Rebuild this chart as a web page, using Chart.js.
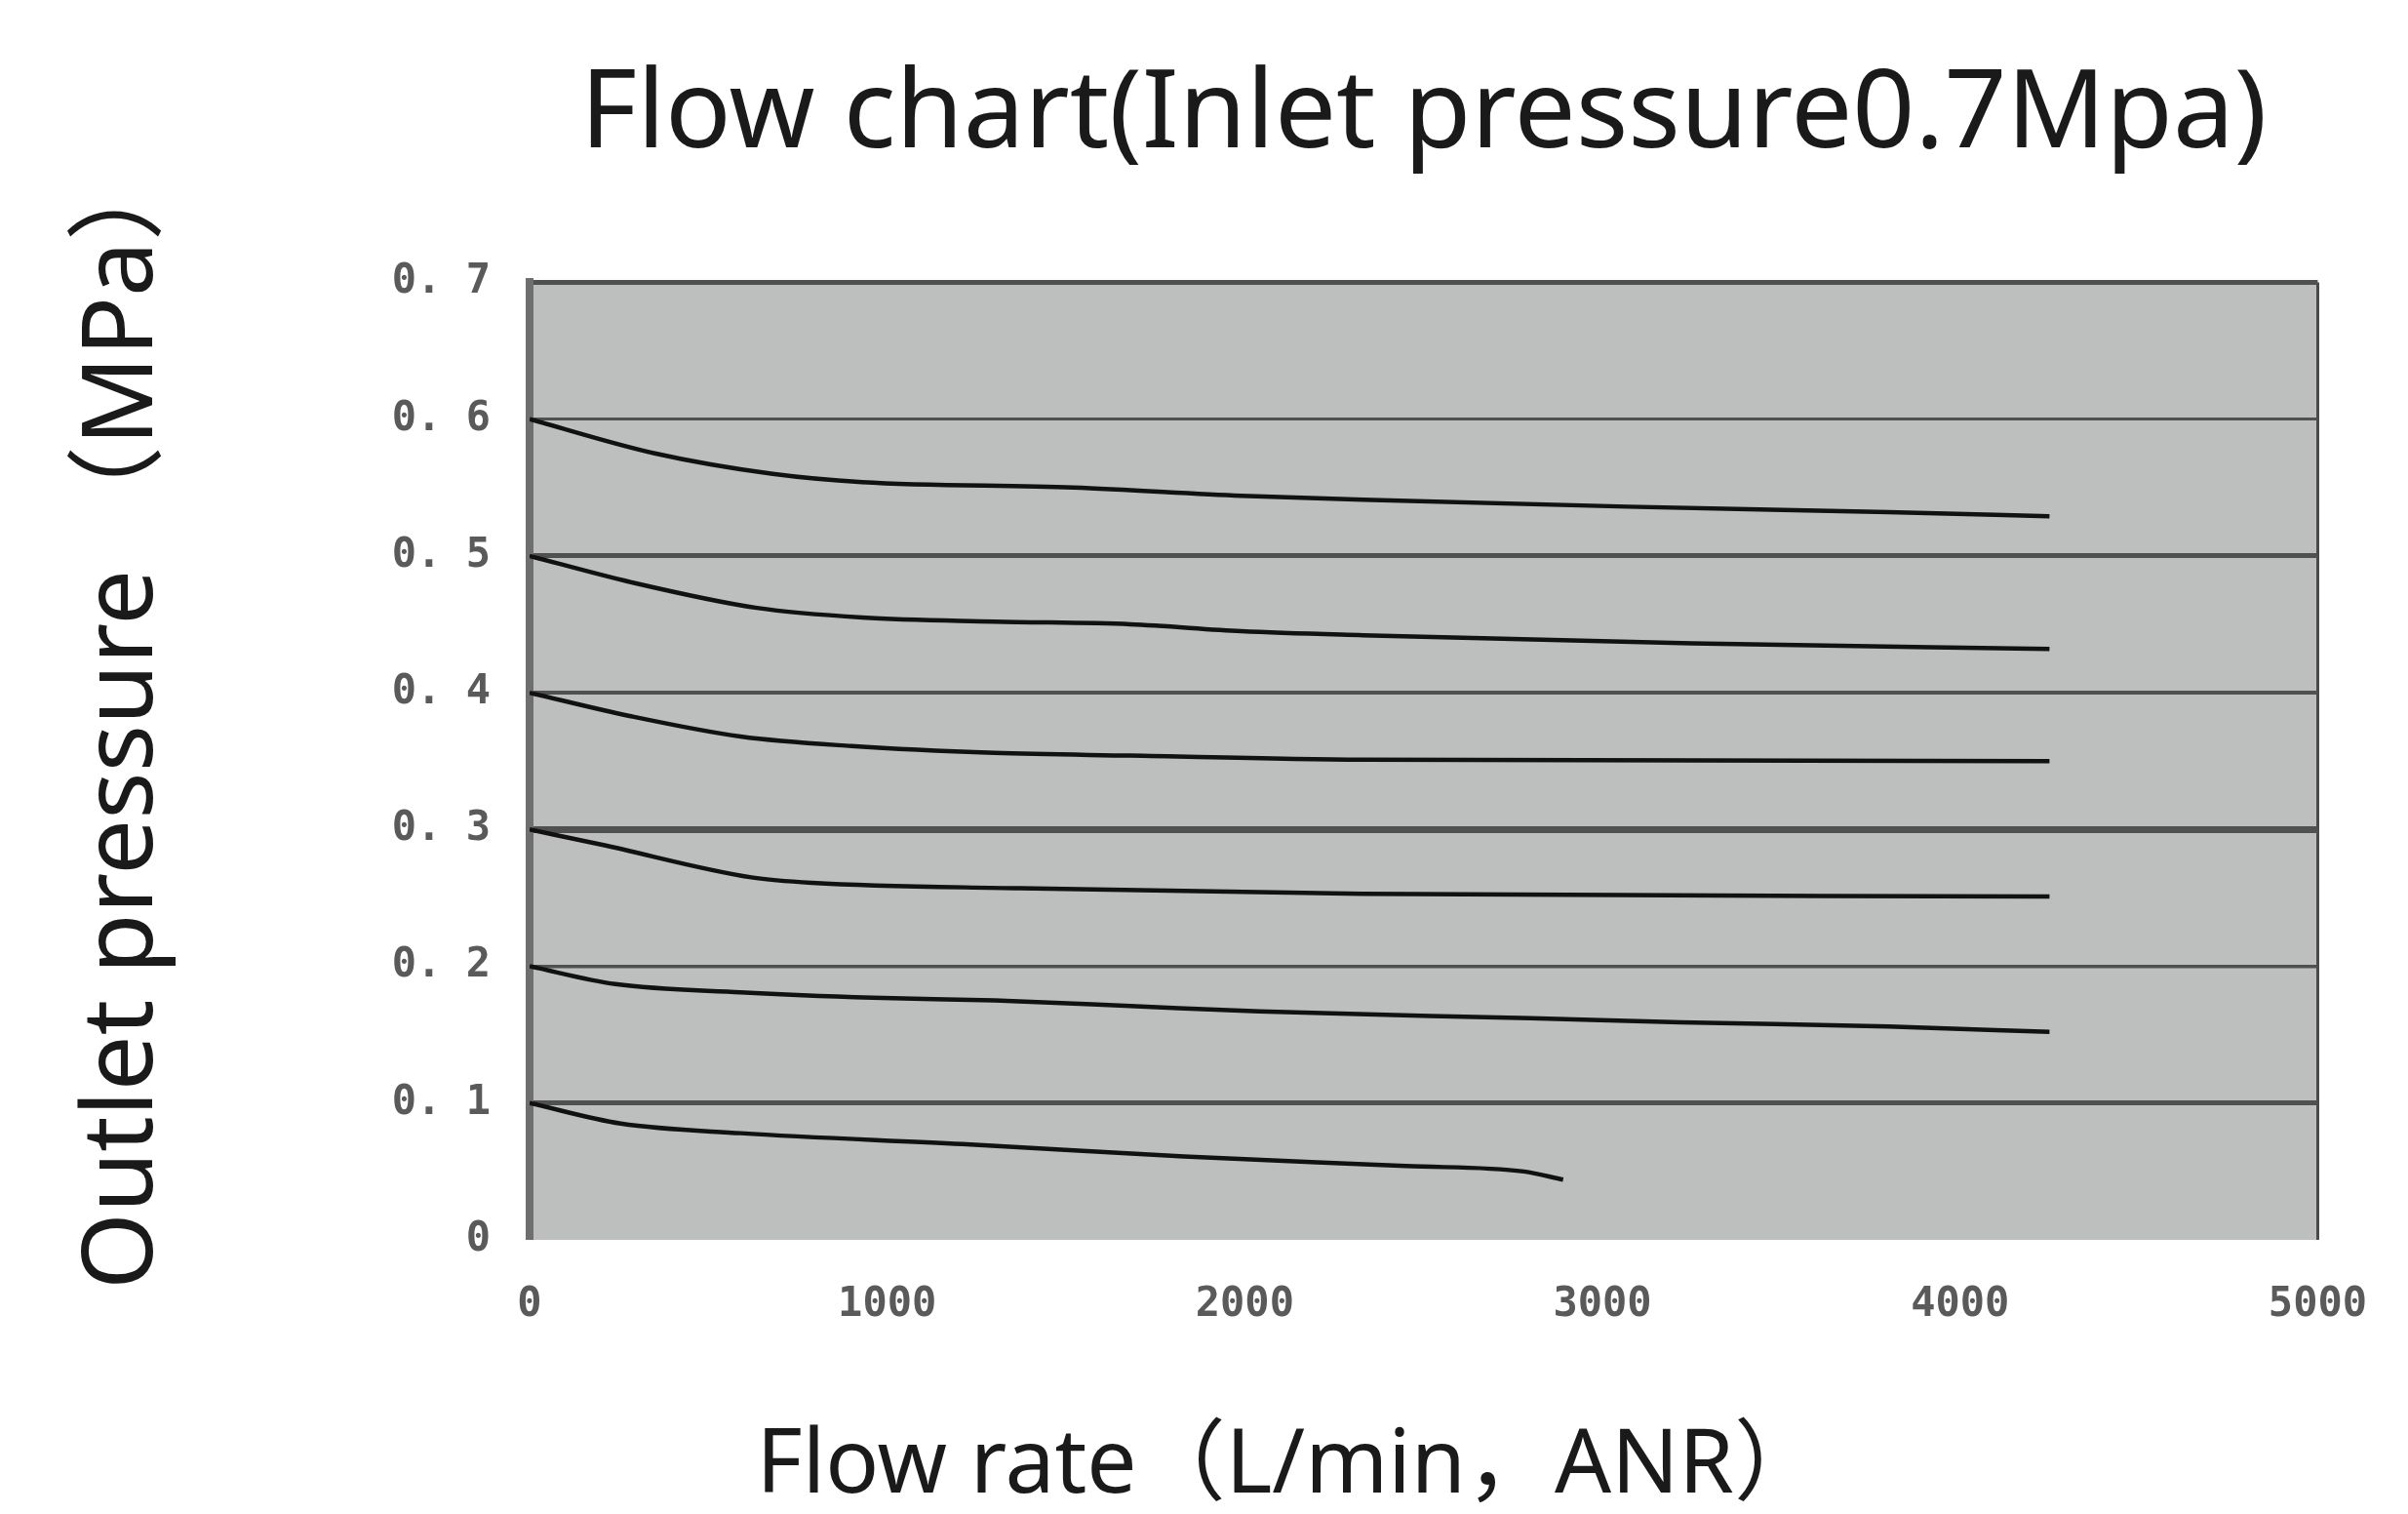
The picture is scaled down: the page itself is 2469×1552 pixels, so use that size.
<!DOCTYPE html>
<html>
<head>
<meta charset="utf-8">
<script src="https://cdn.jsdelivr.net/npm/chart.js@4.4.1/dist/chart.umd.min.js"></script>
<style>
  html, body { margin: 0; padding: 0; background: #fff; }
  #wrap { width: 2469px; height: 1552px; position: relative; }
</style>
</head>
<body>
<div id="wrap"><canvas id="flowChart"></canvas></div>
<script>
// Flow chart, inlet pressure 0.7 MPa

const chartTitle = 'Flow chart(Inlet pressure0.7Mpa)';
const yTitle = 'Outlet pressure （MPa）';
const xTitle = 'Flow rate（L/min，ANR）';

const xTickLabels = ['0', '1000', '2000', '3000', '4000', '5000'];
const yTickLabels = ['0', '0. 1', '0. 2', '0. 3', '0. 4', '0. 5', '0. 6', '0. 7'];

// one flow / pressure pair per set pressure
const flow06 = [0, 350, 680, 930, 1520, 1990, 2330, 3070, 3800, 4250];
const press06 = [0.600, 0.575, 0.560, 0.554, 0.550, 0.544, 0.541, 0.536, 0.532, 0.529];

const flow05 = [0, 280, 635, 930, 1300, 1680, 1990, 2330, 3250, 4250];
const press05 = [0.500, 0.481, 0.462, 0.455, 0.452, 0.450, 0.445, 0.442, 0.436, 0.432];

const flow04 = [0, 280, 590, 900, 1300, 1680, 2330, 4250];
const press04 = [0.400, 0.383, 0.368, 0.361, 0.356, 0.354, 0.351, 0.350];

const flow03 = [0, 200, 620, 790, 1370, 2330, 4250];
const press03 = [0.300, 0.289, 0.265, 0.261, 0.257, 0.253, 0.251];

const flow02 = [0, 240, 590, 960, 1300, 1680, 2040, 2800, 3220, 3800, 4250];
const press02 = [0.200, 0.187, 0.181, 0.177, 0.175, 0.171, 0.167, 0.162, 0.159, 0.156, 0.152];

const flow01 = [0, 255, 590, 1210, 1830, 2450, 2780, 2890];
const press01 = [0.100, 0.085, 0.078, 0.070, 0.061, 0.054, 0.050, 0.044];

const curves = [
    [flow06, press06],
    [flow05, press05],
    [flow04, press04],
    [flow03, press03],
    [flow02, press02],
    [flow01, press01]
];

// gridline weights, bottom to top (the scan has uneven rules)
const yGridWidths = [0, 5, 3.5, 7, 4, 5, 3, 5];

Chart.defaults.font.family = '"Noto Sans", "Noto Sans CJK SC", sans-serif';
Chart.defaults.color = '#222';

const plotBackground = {
    id: 'plotBackground',
    beforeDraw(chart) {
        const { ctx, chartArea: a } = chart;
        ctx.save();
        ctx.fillStyle = '#bdbebe';
        ctx.fillRect(a.left, a.top, a.right - a.left, a.bottom - a.top);
        ctx.restore();
    }
};

// axis titles are off-centre in the original, so draw them by hand
const axisTitles = {
    id: 'axisTitles',
    afterDraw(chart) {
        const { ctx, chartArea: a } = chart;
        ctx.save();
        ctx.fillStyle = '#1a1a1a';
        ctx.textBaseline = 'middle';

        ctx.font = '91px "Noto Sans", "Noto Sans CJK SC", sans-serif';
        ctx.textAlign = 'center';
        ctx.fillText(xTitle, a.left + (a.right - a.left) * 0.425, a.bottom + 233);

        ctx.font = '101px "Noto Sans", "Noto Sans CJK SC", sans-serif';
        ctx.textAlign = 'left';
        ctx.translate(127, a.bottom + 51);
        ctx.rotate(-Math.PI / 2);
        ctx.fillText(yTitle, 0, 0);
        ctx.restore();
    }
};

const datasets = curves.map(([xs, ys]) => ({
    data: xs.map((x, i) => ({ x: x, y: ys[i] })),
    borderColor: '#111',
    borderWidth: 4.5,
    pointRadius: 0,
    fill: false,
    cubicInterpolationMode: 'monotone'
}));

const tickFont = { family: '"DejaVu Sans Mono", monospace', size: 42, weight: 'bold' };

new Chart(document.getElementById('flowChart'), {
    type: 'line',
    data: { datasets: datasets },
    plugins: [plotBackground, axisTitles],
    options: {
        responsive: true,
        maintainAspectRatio: false,
        devicePixelRatio: 1,
        animation: false,
        layout: { padding: { left: 0, right: 83, top: 0, bottom: 0 } },
        plugins: {
            legend: { display: false },
            tooltip: { enabled: false },
            title: {
                display: true,
                text: chartTitle,
                fullSize: false,
                color: '#1a1a1a',
                font: { size: 112, weight: 'normal' },
                padding: { top: 52, bottom: 103 }
            }
        },
        scales: {
            x: {
                type: 'linear',
                min: 0,
                max: 5000,
                afterFit(scale) { scale.height = 281; },
                ticks: {
                    stepSize: 1000,
                    color: '#5a5a5a',
                    font: tickFont,
                    padding: 42,
                    maxRotation: 0,
                    callback: (v, i) => xTickLabels[i]
                },
                grid: {
                    drawTicks: false,
                    color: '#4a4a4a',
                    lineWidth: (c) => (c.tick && c.tick.value === 5000 ? 3 : 0)
                },
                border: { display: false }
            },
            y: {
                type: 'linear',
                min: 0,
                max: 0.7,
                afterFit(scale) { scale.width = 543; },
                ticks: {
                    stepSize: 0.1,
                    color: '#5a5a5a',
                    font: tickFont,
                    padding: 40,
                    callback: (v, i) => yTickLabels[i]
                },
                grid: {
                    drawTicks: false,
                    color: '#505050',
                    lineWidth: (c) => yGridWidths[c.index] || 0
                },
                border: { display: true, color: '#6f6f6f', width: 8 },
                title: { display: false }
            }
        }
    }
});
</script>
</body>
</html>
